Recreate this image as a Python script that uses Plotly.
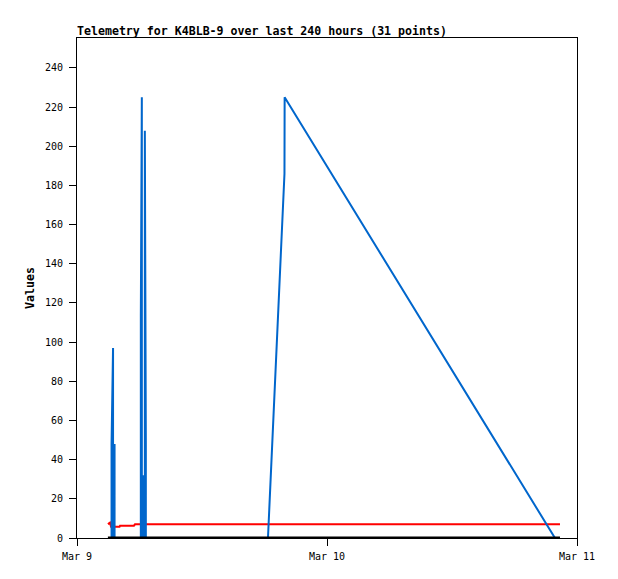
import plotly.graph_objects as go

# ---- data ----
red_times = ["2024-03-09 02:58", "2024-03-09 03:10", "2024-03-09 03:16", "2024-03-09 04:05",
             "2024-03-09 04:08", "2024-03-09 05:28", "2024-03-09 05:34", "2024-03-10 22:22"]
red_values = [7.1, 7.8, 5.8, 5.8, 6.3, 6.3, 7.0, 7.0]

black_times = ["2024-03-09 02:58", "2024-03-10 22:22"]
black_values = [0, 0]

blue_times = ["2024-03-09 03:19:00", "2024-03-09 03:19:01", "2024-03-09 03:27:40", "2024-03-09 03:27:41",
              "2024-03-09 03:36:20", "2024-03-09 03:36:21",
              "2024-03-09 06:07:40", "2024-03-09 06:07:41", "2024-03-09 06:13:26", "2024-03-09 06:13:27",
              "2024-03-09 06:22:05", "2024-03-09 06:22:06", "2024-03-09 06:30:44", "2024-03-09 06:30:45",
              "2024-03-09 06:36:30", "2024-03-09 06:36:31",
              "2024-03-09 18:20", "2024-03-09 19:55", "2024-03-09 19:56", "2024-03-10 21:53"]
blue_values = [0, 48, 97, 0, 48, 0,
               0, 113, 225, 0, 32, 0, 0, 208, 48, 0,
               0, 186, 225, 0]

x_tick_vals = ["2024-03-09", "2024-03-10", "2024-03-11"]
x_tick_text = ["Mar 9", "Mar 10", "Mar 11"]
y_tick_vals = list(range(0, 241, 20))

title_text = "Telemetry for K4BLB-9 over last 240 hours (31 points)"

FONT = "DejaVu Sans Mono"

fig = go.Figure()
fig.add_trace(go.Scatter(x=red_times, y=red_values, mode="lines",
                         line=dict(color="#ff0000", width=2), showlegend=False))
fig.add_trace(go.Scatter(x=blue_times, y=blue_values, mode="lines",
                         line=dict(color="#0066cc", width=2), showlegend=False))
fig.add_trace(go.Scatter(x=black_times, y=black_values, mode="lines",
                         line=dict(color="#000000", width=3), showlegend=False))

# page body has an 8px margin, so the figure is offset by 8px
W, H = 610, 571
fig.update_layout(
    width=W, height=H,
    margin=dict(l=69, r=41, t=30, b=41),
    paper_bgcolor="white", plot_bgcolor="white",
    font=dict(family=FONT, size=10, color="black"),
    title=dict(text="<b>" + title_text + "</b>", x=69 / W, xanchor="left",
               y=1 - 23 / H, yanchor="middle",
               font=dict(family=FONT, size=11.6, color="black")),
    xaxis=dict(type="date", range=["2024-03-09", "2024-03-11"],
               tickvals=x_tick_vals, ticktext=x_tick_text,
               showgrid=False, zeroline=False,
               showline=True, linecolor="black", linewidth=1, mirror=True,
               ticks="outside", ticklen=7, tickcolor="black",
               ticklabelstandoff=2,
               tickfont=dict(family=FONT, size=10)),
    yaxis=dict(range=[0, 255.3], tickvals=y_tick_vals,
               showgrid=False, zeroline=False,
               showline=True, linecolor="black", linewidth=1, mirror=True,
               ticks="outside", ticklen=7, tickcolor="black",
               ticklabelstandoff=4,
               tickfont=dict(family=FONT, size=10),
               title=dict(text="<b>Values</b>", font=dict(family=FONT, size=11.6), standoff=7)),
)

fig.write_html("out.html")
